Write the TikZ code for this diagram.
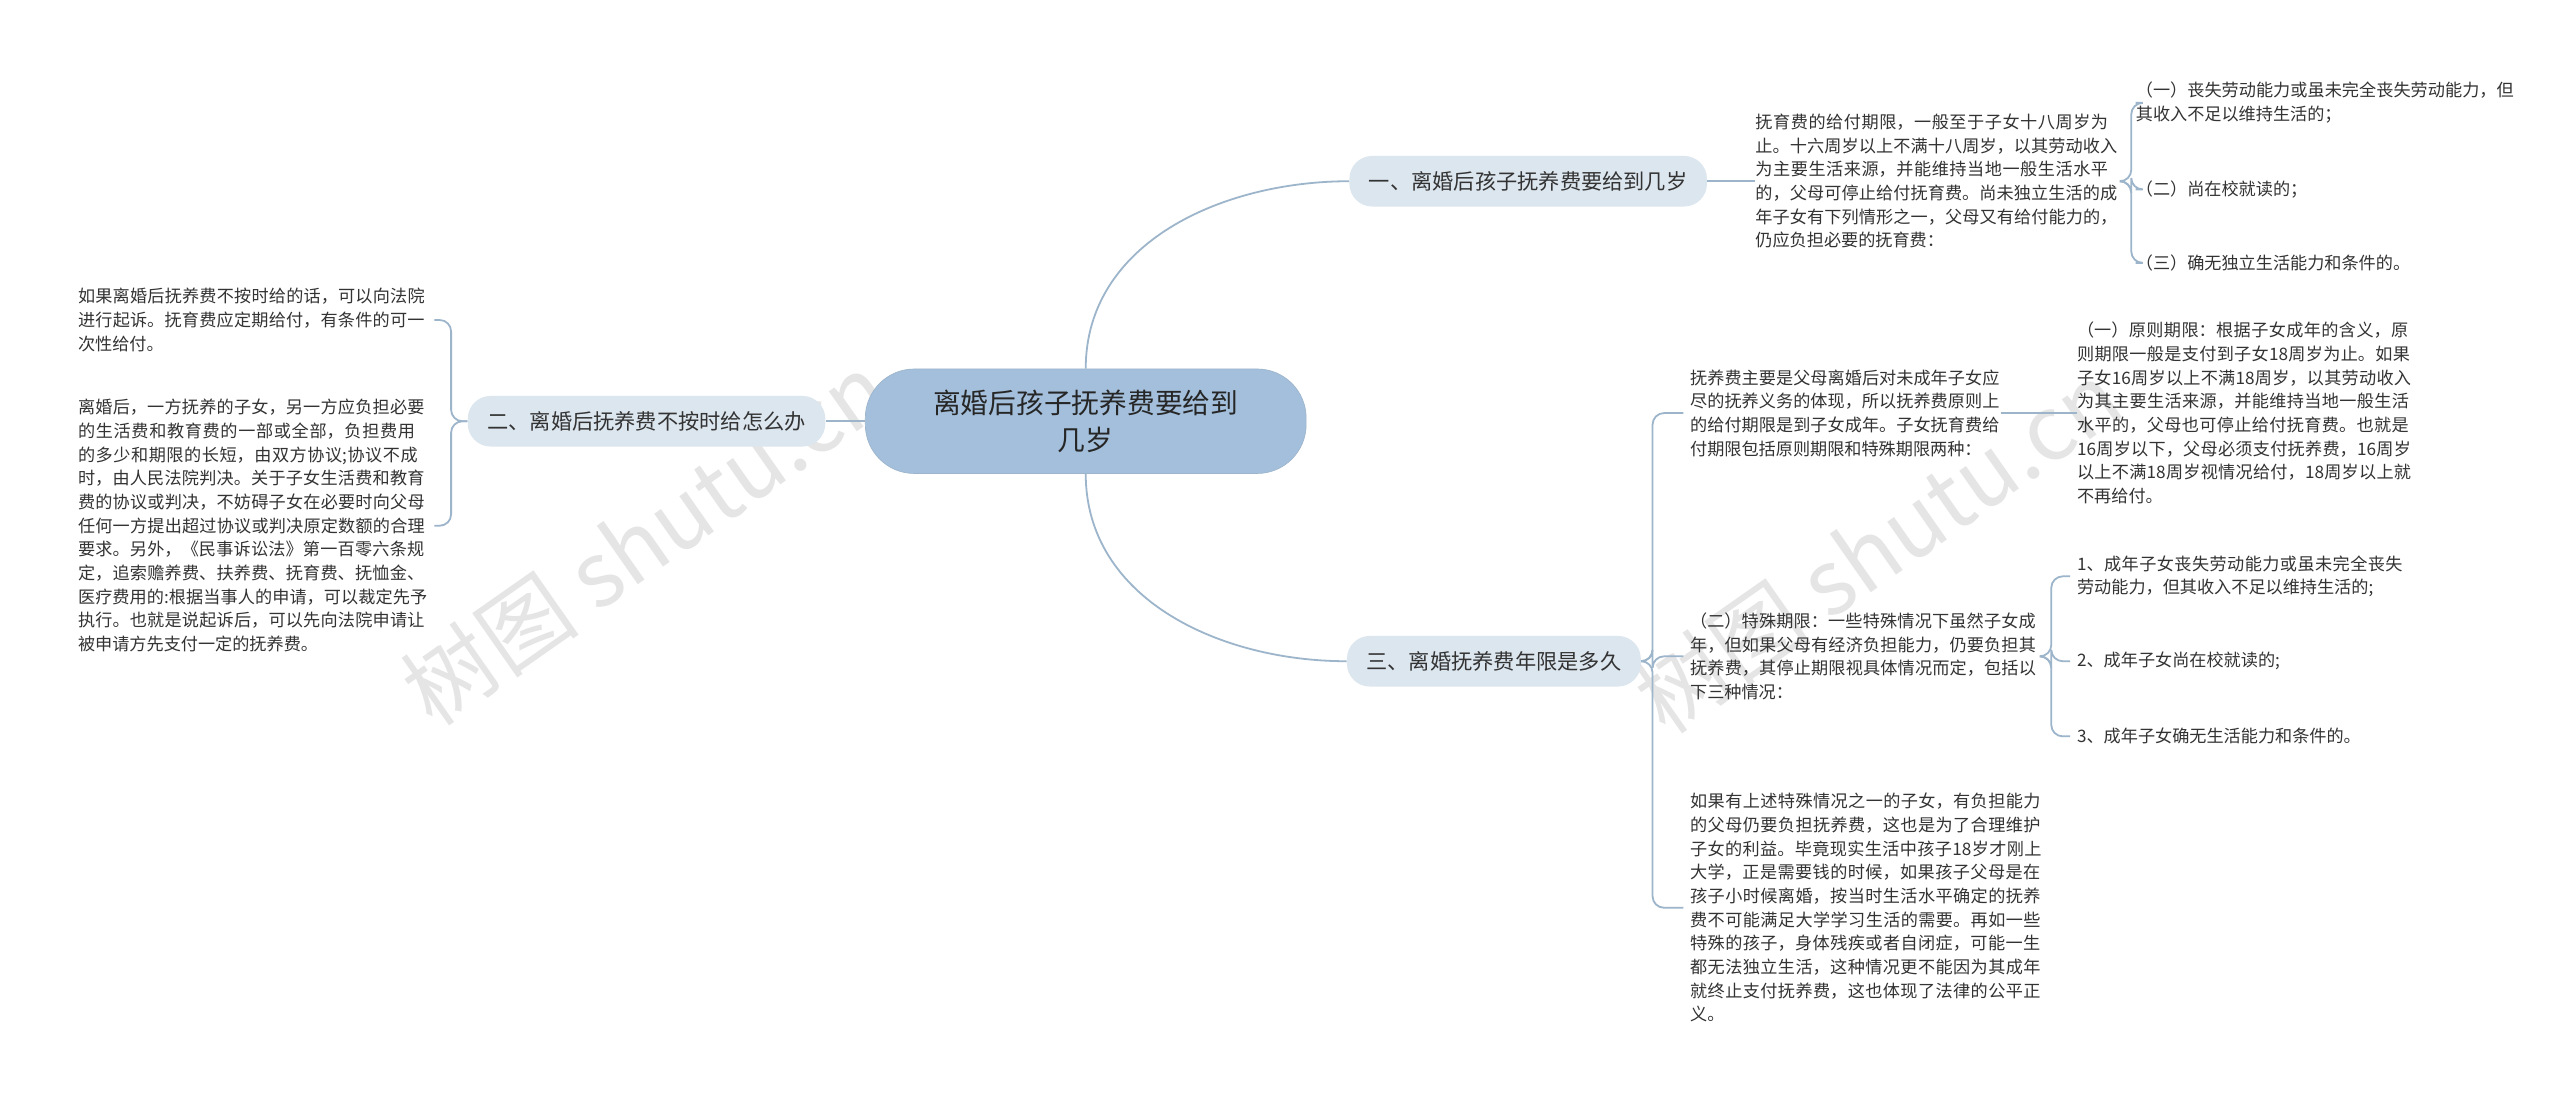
\documentclass[tikz,border=0pt]{standalone}
\usepackage{fontspec}
\setmainfont{Noto Sans CJK SC}
\XeTeXlinebreaklocale "zh"
\XeTeXlinebreakskip=0pt plus 1pt
\begin{document}
\begin{tikzpicture}[x=1pt,y=-1pt,
  ln/.style={draw=lnc,line width=1.1pt,rounded corners=7pt},
  txt/.style={font=\fontsize{10.5}{14.5}\selectfont,text=black!80,align=left,inner sep=0pt,anchor=west},
  br/.style={fill=brf,rounded corners=14pt,font=\fontsize{13}{16}\selectfont,text=black!80,inner xsep=12pt,minimum height=31pt}]
\definecolor{lnc}{HTML}{9DB5CB}
\definecolor{brf}{HTML}{DCE6EF}
\definecolor{cf}{HTML}{A3BFDB}
\useasboundingbox (0,0) rectangle (1568,672);
\fill[white] (0,0) rectangle (1568,672);
% watermarks
\node[rotate=35,text=black!10,font=\fontsize{55}{60}\selectfont] (w1) at (395,330) {树图 shutu.cn};
\node[rotate=35,text=black!10,font=\fontsize{55}{60}\selectfont] (w2) at (1150,335) {树图 shutu.cn};
% center
\node[fill=cf,draw=lnc,rounded corners=30pt,minimum width=270pt,minimum height=64pt,align=center,font=\fontsize{17}{23}\selectfont,text=black!85] (c) at (665,258) {离婚后孩子抚养费要给到\\几岁};
% branches
\node[br] (b1) at (936,111) {一、离婚后孩子抚养费要给到几岁};
\node[br] (b2) at (396,258) {二、离婚后抚养费不按时给怎么办};
\node[br] (b3) at (915,405) {三、离婚抚养费年限是多久};
\draw[ln] (c.north) to[out=90,in=180] (b1.west);
\draw[ln] (c.south) to[out=-90,in=180] (b3.west);
\draw[ln] (c.west) -- (b2.east);
% branch 1
\node[txt,text width=223pt] (t1) at (1075,111) {抚育费的给付期限，一般至于子女十八周岁为止。十六周岁以上不满十八周岁，以其劳动收入为主要生活来源，并能维持当地一般生活水平的，父母可停止给付抚育费。尚未独立生活的成年子女有下列情形之一，父母又有给付能力的，仍应负担必要的抚育费：};
\draw[ln] (b1.east) -- (t1.west);
\node[txt,text width=232pt] (t11) at (1308,63) {（一）丧失劳动能力或虽未完全丧失劳动能力，但其收入不足以维持生活的；};
\node[txt] (t12) at (1308,116) {（二）尚在校就读的；};
\node[txt] (t13) at (1308,161) {（三）确无独立生活能力和条件的。};
\foreach \k in {t11,t12,t13} \draw[ln] (t1.east) -- ++(7,0) |- (\k.west);
% branch 2
\node[txt,text width=215pt,anchor=east] (t21) at (263,196) {如果离婚后抚养费不按时给的话，可以向法院进行起诉。抚育费应定期给付，有条件的可一次性给付。};
\node[txt,text width=215pt,anchor=east] (t22) at (263,322) {离婚后，一方抚养的子女，另一方应负担必要的生活费和教育费的一部或全部，负担费用的多少和期限的长短，由双方协议;协议不成时，由人民法院判决。关于子女生活费和教育费的协议或判决，不妨碍子女在必要时向父母任何一方提出超过协议或判决原定数额的合理要求。另外，《民事诉讼法》第一百零六条规定，追索赡养费、扶养费、抚育费、抚恤金、医疗费用的:根据当事人的申请，可以裁定先予执行。也就是说起诉后，可以先向法院申请让被申请方先支付一定的抚养费。};
\foreach \k in {t21,t22} \draw[ln] (b2.west) -- ++(-10,0) |- ([xshift=3pt]\k.east);
% branch 3
\node[txt,text width=190pt] (t31) at (1035,253) {抚养费主要是父母离婚后对未成年子女应尽的抚养义务的体现，所以抚养费原则上的给付期限是到子女成年。子女抚育费给付期限包括原则期限和特殊期限两种：};
\node[txt,text width=214pt] (t32) at (1035,402) {（二）特殊期限：一些特殊情况下虽然子女成年，但如果父母有经济负担能力，仍要负担其抚养费，其停止期限视具体情况而定，包括以下三种情况：};
\node[txt,text width=220pt] (t33) at (1035,556) {如果有上述特殊情况之一的子女，有负担能力的父母仍要负担抚养费，这也是为了合理维护子女的利益。毕竟现实生活中孩子18岁才刚上大学，正是需要钱的时候，如果孩子父母是在孩子小时候离婚，按当时生活水平确定的抚养费不可能满足大学学习生活的需要。再如一些特殊的孩子，身体残疾或者自闭症，可能一生都无法独立生活，这种情况更不能因为其成年就终止支付抚养费，这也体现了法律的公平正义。};
\foreach \k in {t31,t32,t33} \draw[ln] (b3.east) -- ++(7,0) |- ([xshift=-4pt]\k.west);
\node[txt,text width=208pt] (t311) at (1272,253) {（一）原则期限：根据子女成年的含义，原则期限一般是支付到子女18周岁为止。如果子女16周岁以上不满18周岁，以其劳动收入为其主要生活来源，并能维持当地一般生活水平的，父母也可停止给付抚育费。也就是16周岁以下，父母必须支付抚养费，16周岁以上不满18周岁视情况给付，18周岁以上就不再给付。};
\draw[ln] (t31.east) -- (t311.west);
\node[txt,text width=205pt] (t321) at (1272,353) {1、成年子女丧失劳动能力或虽未完全丧失劳动能力，但其收入不足以维持生活的;};
\node[txt] (t322) at (1272,405) {2、成年子女尚在校就读的;};
\node[txt] (t323) at (1272,451) {3、成年子女确无生活能力和条件的。};
\foreach \k in {t321,t322,t323} \draw[ln] (t32.east) -- ++(7,0) |- ([xshift=-4pt]\k.west);
\end{tikzpicture}
\end{document}
